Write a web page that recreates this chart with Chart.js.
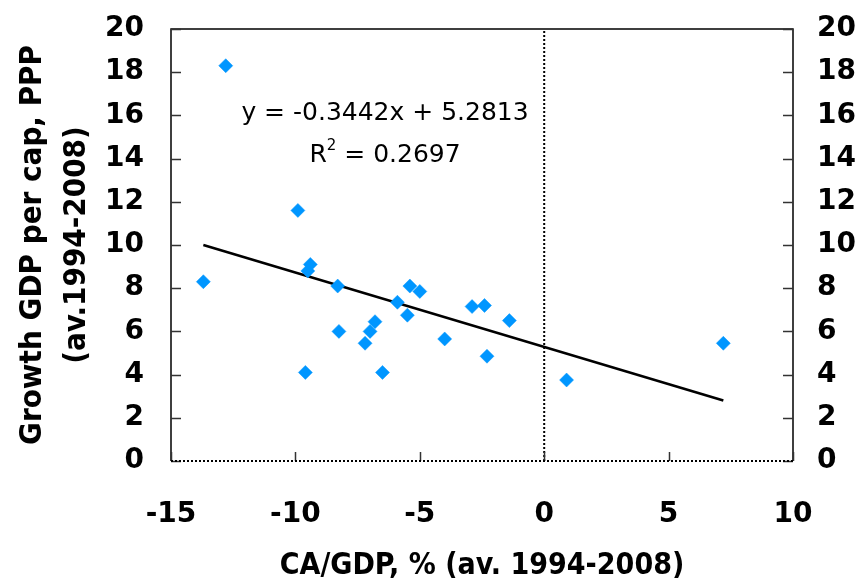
<!DOCTYPE html>
<html>
<head>
<meta charset="utf-8">
<script src="https://cdn.jsdelivr.net/npm/chart.js@4.4.1/dist/chart.umd.min.js"></script>
<style>
  html, body { margin: 0; padding: 0; background: #fff; }
  #wrap { width: 867px; height: 584px; }
</style>
</head>
<body>
<div id="wrap"><canvas id="chart" width="867" height="584"></canvas></div>
<script>
// CA/GDP (%) vs growth of GDP per capita, averages 1994-2008
const caGdp = [-12.8, -9.9, -13.7, -9.4, -9.5, -8.3, -8.25, -9.6, -7.2, -7.0, -6.8, -6.5,
               -5.9, -5.5, -5.4, -5.0, -4.0, -2.9, -2.4, -2.3, -1.4, 0.9, 7.2];
const growth = [18.3, 11.6, 8.3, 9.1, 8.8, 8.1, 6.0, 4.1, 5.45, 6.0, 6.45, 4.1,
                7.35, 6.75, 8.1, 7.85, 5.65, 7.15, 7.2, 4.85, 6.5, 3.75, 5.45];

// fitted line end points, as drawn
const trendX = [-13.7, 7.2];
const trendY = [10.0, 2.8];

// dotted reference line at CA/GDP = 0
const zeroX = [0, 0];
const zeroY = [0, 20];

const eqLine = 'y = -0.3442x + 5.2813';
const r2Value = '0.2697';

const tickFont = { family: "'DejaVu Sans'", size: 28, weight: 'bold' };
const titleFamily = "'DejaVu Sans Condensed', 'Liberation Sans'";

const toXY = (xs, ys) => xs.map((x, i) => ({ x: x, y: ys[i] }));

// fixed axis box sizes, no extra label overhang padding
const fixBox = (w, h) => s => {
  if (w !== null) s.width = w;
  if (h !== null) s.height = h;
  s.paddingTop = 0; s.paddingBottom = 0;
  s.paddingLeft = 0; s.paddingRight = 0;
};

// frame: solid left/top/right, dotted bottom, inward ticks, equation text
const framePlugin = {
  id: 'frame',
  afterDatasetsDraw(chart) {
    const { ctx, chartArea: a, scales } = chart;
    ctx.save();
    ctx.strokeStyle = '#000';
    ctx.lineWidth = 1.5;
    ctx.beginPath();
    ctx.moveTo(a.left, a.bottom);
    ctx.lineTo(a.left, a.top);
    ctx.lineTo(a.right, a.top);
    ctx.lineTo(a.right, a.bottom);
    ctx.stroke();

    ctx.strokeStyle = '#333';
    ctx.beginPath();
    scales.y.ticks.forEach(t => {
      const py = Math.round(scales.y.getPixelForValue(t.value)) + 0.5;
      ctx.moveTo(a.left, py); ctx.lineTo(a.left + 10, py);
      ctx.moveTo(a.right, py); ctx.lineTo(a.right - 10, py);
    });
    scales.x.ticks.forEach(t => {
      const px = Math.round(scales.x.getPixelForValue(t.value)) + 0.5;
      ctx.moveTo(px, a.bottom); ctx.lineTo(px, a.bottom - 9);
    });
    ctx.stroke();

    ctx.strokeStyle = '#000';
    ctx.lineWidth = 2;
    ctx.setLineDash([2, 2]);
    ctx.beginPath();
    ctx.moveTo(a.left, a.bottom);
    ctx.lineTo(a.right, a.bottom);
    ctx.stroke();
    ctx.setLineDash([]);

    // regression equation
    ctx.fillStyle = '#000';
    ctx.textBaseline = 'alphabetic';
    ctx.font = "25px 'DejaVu Sans'";
    ctx.textAlign = 'center';
    const cx = 385;
    ctx.fillText(eqLine, cx, 120);
    ctx.textAlign = 'left';
    const rest = ' = ' + r2Value;
    const wR = ctx.measureText('R').width;
    const wRest = ctx.measureText(rest).width;
    ctx.font = "15px 'DejaVu Sans'";
    const w2 = ctx.measureText('2').width;
    let x0 = cx - (wR + w2 + wRest) / 2;
    ctx.font = "25px 'DejaVu Sans'";
    ctx.fillText('R', x0, 162);
    ctx.font = "15px 'DejaVu Sans'";
    ctx.fillText('2', x0 + wR, 150);
    ctx.font = "25px 'DejaVu Sans'";
    ctx.fillText(rest, x0 + wR + w2, 162);
    ctx.restore();
  }
};

new Chart(document.getElementById('chart'), {
  type: 'scatter',
  data: {
    datasets: [
      {
        label: 'Countries',
        data: toXY(caGdp, growth),
        pointStyle: 'rectRot',
        pointRadius: 7,
        pointHoverRadius: 7,
        backgroundColor: '#0096ff',
        borderColor: '#0096ff',
        borderWidth: 0.5,
        order: 1
      },
      {
        label: 'Trend',
        data: toXY(trendX, trendY),
        showLine: true,
        borderColor: '#000',
        borderWidth: 2.5,
        pointRadius: 0,
        order: 2
      },
      {
        label: 'Zero',
        data: toXY(zeroX, zeroY),
        showLine: true,
        borderColor: '#000',
        borderWidth: 2,
        borderDash: [2, 2],
        pointRadius: 0,
        order: 3
      }
    ]
  },
  options: {
    responsive: false,
    animation: false,
    devicePixelRatio: 1,
    layout: { padding: { top: 29, left: 0, right: 0, bottom: 0 } },
    plugins: {
      legend: { display: false },
      tooltip: { enabled: false }
    },
    scales: {
      x: {
        type: 'linear',
        min: -15,
        max: 10,
        ticks: { stepSize: 5, color: '#000', font: tickFont, padding: 37, maxRotation: 0 },
        grid: { display: false, drawTicks: false },
        border: { display: false },
        title: {
          display: true,
          text: 'CA/GDP, % (av. 1994-2008)',
          color: '#000',
          font: { family: titleFamily, size: 30, weight: 'bold', lineHeight: 1.0 },
          padding: { top: 0, bottom: 3 }
        },
        afterFit: fixBox(null, 123)
      },
      y: {
        position: 'left',
        min: 0,
        max: 20,
        ticks: { stepSize: 2, color: '#000', font: tickFont, padding: 27 },
        grid: { display: false, drawTicks: false },
        border: { display: false },
        title: {
          display: true,
          text: ['Growth GDP per cap, PPP', '(av.1994-2008)'],
          color: '#000',
          font: { family: titleFamily, size: 31, weight: 'bold', lineHeight: 1.42 },
          padding: { top: 11, bottom: 0 }
        },
        afterFit: fixBox(171, null)
      },
      y2: {
        position: 'right',
        min: 0,
        max: 20,
        ticks: { stepSize: 2, color: '#000', font: tickFont, padding: 24 },
        grid: { display: false, drawTicks: false },
        border: { display: false },
        afterFit: fixBox(74, null)
      }
    }
  },
  plugins: [framePlugin]
});
</script>
</body>
</html>
